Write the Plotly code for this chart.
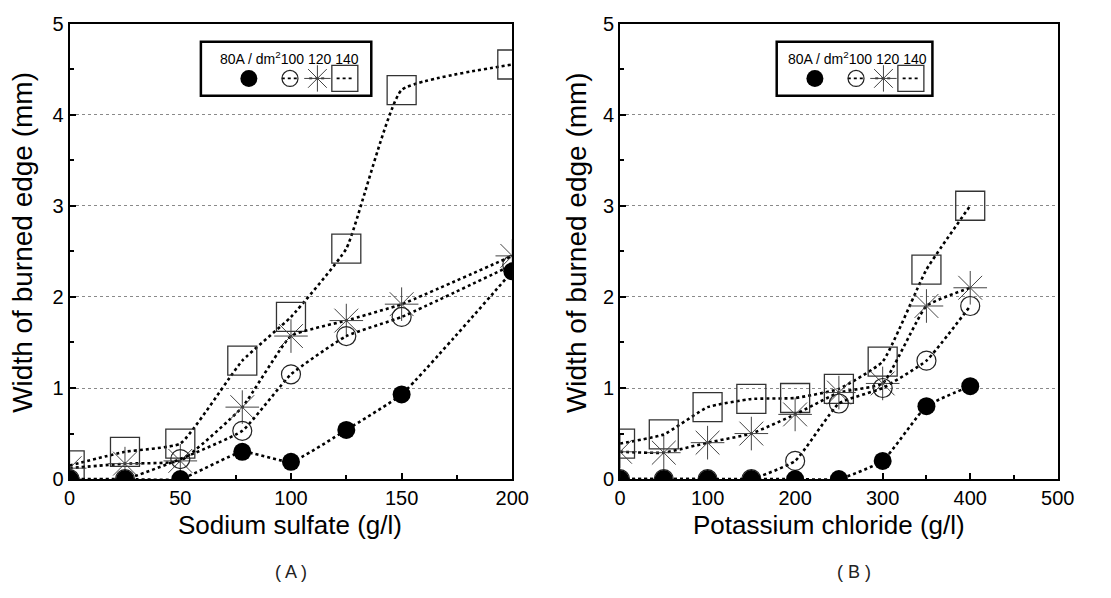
import plotly.graph_objects as go

# ---------------- data ----------------
# Panel A: sodium sulfate (g/l)
x_a = [0, 25, 50, 78, 100, 125, 150, 200]
a_80 = [0, 0, 0, 0.30, 0.19, 0.54, 0.93, 2.28]
a_100 = [0, 0, 0.22, 0.53, 1.15, 1.57, 1.78, 2.35]
a_120 = [0.12, 0.17, 0.20, 0.79, 1.57, 1.74, 1.92, 2.45]
a_140 = [0.15, 0.30, 0.39, 1.30, 1.78, 2.53, 4.27, 4.55]

# Panel B: potassium chloride (g/l)
x_b = [0, 50, 100, 150, 200, 250, 300, 350, 400]
b_80 = [0, 0, 0, 0, 0, 0, 0.20, 0.80, 1.02]
b_100 = [0, 0, 0, 0, 0.20, 0.83, 1.00, 1.30, 1.90]
b_120 = [0.30, 0.29, 0.40, 0.50, 0.71, 0.95, 1.05, 1.90, 2.10]
b_140 = [0.39, 0.49, 0.79, 0.88, 0.89, 0.99, 1.29, 2.30, 3.00]

series_keys = ["140", "120", "100", "80"]   # drawing order (bottom to top)
legend_order = ["80", "100", "120", "140"]
legend_slots = [0, 1.5, 2.5, 3.5]
legend_text = "80A / dm<sup>2</sup>100 120 140"

y_ticks = [0, 1, 2, 3, 4, 5]
x_ticks_a = [0, 50, 100, 150, 200]
x_ticks_b = [0, 100, 200, 300, 400, 500]

y_title = "Width of burned edge (mm)"
x_title_a = "Sodium sulfate (g/l)"
x_title_b = "Potassium chloride (g/l)"
panel_a = "( A )"
panel_b = "( B )"

# ---------------- styles ----------------
FONT = "Liberation Sans, Arial, sans-serif"
marker_styles = {
    "80": dict(symbol="circle", size=18, color="black", line=dict(width=0, color="black")),
    "100": dict(symbol="circle-open", size=19, color="#222222", line=dict(width=1.2, color="#222222")),
    "120": dict(symbol="asterisk-open", size=28, color="#444444", line=dict(width=1.0, color="#444444")),
    "140": dict(symbol="square-open", size=29, color="#333333", line=dict(width=1.3, color="#333333")),
}

data_a = {"80": a_80, "100": a_100, "120": a_120, "140": a_140}
data_b = {"80": b_80, "100": b_100, "120": b_120, "140": b_140}

line_style = dict(color="black", width=2.6, dash="dot", shape="spline", smoothing=0.4)

fig = go.Figure()
for key in series_keys:
    fig.add_trace(go.Scatter(x=x_a, y=data_a[key], mode="lines+markers", line=line_style,
                             marker=marker_styles[key], xaxis="x", yaxis="y", showlegend=False))
for key in series_keys:
    fig.add_trace(go.Scatter(x=x_b, y=data_b[key], mode="lines+markers", line=line_style,
                             marker=marker_styles[key], xaxis="x2", yaxis="y2", showlegend=False))

# legend keys (drawn on hidden helper axes)
leg_sizes = {"80": 17, "100": 16, "120": 22, "140": 26}
for xa, ya in (("x3", "y3"), ("x4", "y4")):
    for pos, key in zip(legend_slots, legend_order):
        st = dict(marker_styles[key])
        st["size"] = leg_sizes[key]
        if key != "80":
            fig.add_trace(go.Scatter(x=[pos - 0.3, pos + 0.3], y=[0.5, 0.5], mode="lines",
                                     line=dict(color="black", width=1.6, dash="dot"),
                                     xaxis=xa, yaxis=ya, showlegend=False, cliponaxis=False))
        fig.add_trace(go.Scatter(x=[pos], y=[0.5], mode="markers", marker=st,
                                 xaxis=xa, yaxis=ya, showlegend=False, cliponaxis=False))

W, H = 1111, 598
def px(v):
    return v / W
def py(v):
    return (H - v) / H

dom_y = [py(486), py(13)]
dom_xa = [px(65), px(517)]
dom_xb = [px(627), px(1074)]

axis_common = dict(
    showline=True, linewidth=2, linecolor="black", mirror=True,
    ticks="inside", ticklen=6, tickwidth=1.5, tickcolor="black",
    tickfont=dict(family=FONT, size=20, color="black"),
    ticklabeloverflow="allow",
    zeroline=False,
)

xa = dict(axis_common, domain=dom_xa, range=[0, 200], tickvals=x_ticks_a, showgrid=False,
          minor=dict(ticks="inside", ticklen=4, tickcolor="black", dtick=25, tick0=0, showgrid=False),
          anchor="y")
xb = dict(axis_common, domain=dom_xb, range=[0, 500], tickvals=x_ticks_b, showgrid=False,
          minor=dict(ticks="inside", ticklen=4, tickcolor="black", dtick=50, tick0=0, showgrid=False),
          anchor="y2")
ya_ = dict(axis_common, domain=dom_y, range=[0, 5], tickvals=y_ticks, showgrid=True,
           gridcolor="#8a8a8a", gridwidth=1, griddash="dot",
           minor=dict(ticks="inside", ticklen=4, tickcolor="black", dtick=0.5, tick0=0, showgrid=False),
           anchor="x")
yb_ = dict(ya_, anchor="x2")

hidden = dict(visible=False, showgrid=False, zeroline=False, fixedrange=True)
fig.update_layout(
    width=W, height=H, margin=dict(l=0, r=0, t=0, b=0),
    paper_bgcolor="white", plot_bgcolor="white",
    xaxis=xa, yaxis=ya_, xaxis2=xb, yaxis2=yb_,
    xaxis3=dict(hidden, domain=[px(234), px(360)], range=[-0.5, 4.0], anchor="y3"),
    yaxis3=dict(hidden, domain=[py(80), py(60)], range=[0, 1], anchor="x3"),
    xaxis4=dict(hidden, domain=[px(812), px(938)], range=[-0.5, 4.0], anchor="y4"),
    yaxis4=dict(hidden, domain=[py(80), py(60)], range=[0, 1], anchor="x4"),
)

shapes = []
annotations = []
for (bx0, bx1, tx) in ((199, 373, 290), (787, 946, 870)):
    shapes.append(dict(type="rect", xref="paper", yref="paper",
                       x0=px(bx0), x1=px(bx1), y0=py(88), y1=py(32),
                       line=dict(color="black", width=2.5), fillcolor="white", layer="below"))
    annotations.append(dict(xref="paper", yref="paper", x=px(tx), y=py(49), text=legend_text,
                            showarrow=False, xanchor="center", yanchor="middle",
                            font=dict(family=FONT, size=14, color="black")))

for (xc, ytx) in ((17, 240), (582, 240)):
    annotations.append(dict(xref="paper", yref="paper", x=px(xc), y=py(ytx), text=y_title,
                            textangle=-90, showarrow=False, xanchor="center", yanchor="middle",
                            font=dict(family=FONT, size=28, color="black")))
annotations.append(dict(xref="paper", yref="paper", x=px(290), y=py(534), text=x_title_a,
                        showarrow=False, xanchor="center", yanchor="middle",
                        font=dict(family=FONT, size=26, color="black")))
annotations.append(dict(xref="paper", yref="paper", x=px(840), y=py(534), text=x_title_b,
                        showarrow=False, xanchor="center", yanchor="middle",
                        font=dict(family=FONT, size=26, color="black")))
annotations.append(dict(xref="paper", yref="paper", x=px(291), y=py(582), text=panel_a,
                        showarrow=False, xanchor="center", yanchor="middle",
                        font=dict(family=FONT, size=18, color="#222222")))
annotations.append(dict(xref="paper", yref="paper", x=px(866), y=py(582), text=panel_b,
                        showarrow=False, xanchor="center", yanchor="middle",
                        font=dict(family=FONT, size=18, color="#222222")))

fig.update_layout(shapes=shapes, annotations=annotations)
fig.write_html("out.html")
